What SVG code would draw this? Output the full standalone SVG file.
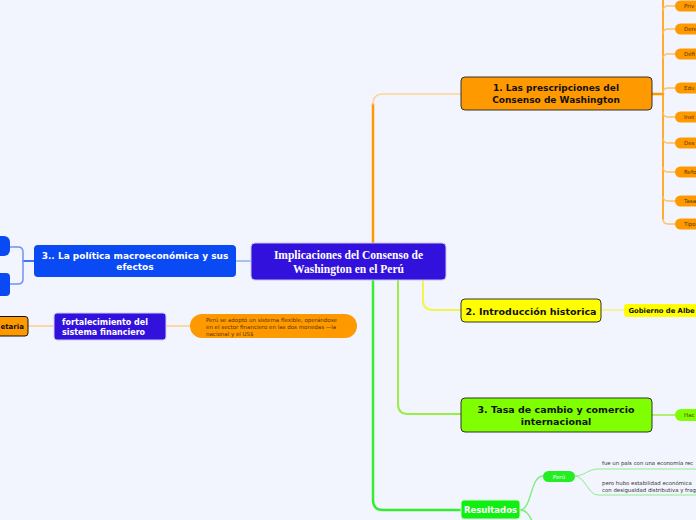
<svg xmlns="http://www.w3.org/2000/svg" width="696" height="520" viewBox="0 0 696 520">
<style>
.t{font-family:"DejaVu Sans",Verdana,sans-serif;}
.b{font-weight:bold;}
.leaf{fill:#ff9900;}
.lt{font-family:"DejaVu Sans",Verdana,sans-serif;font-size:5.5px;fill:#5a3300;}
.c{fill:none;stroke-linecap:round;}
</style>
<rect width="696" height="520" fill="#f2f5fd"/>
<g id="connectors">
  <path class="c" d="M373,243 V104" stroke="#ff9900" stroke-width="2.5"/>
  <path class="c" d="M373,104 Q373,94 383,94 H461" stroke="#ffd49a" stroke-width="1.5"/>
  <path class="c" d="M423,280 V300 Q423,310 433,310 H461" stroke="#f4f44a" stroke-width="2"/>
  <path class="c" d="M398,280 V404 Q398,414 408,414 H461" stroke="#99ee44" stroke-width="2"/>
  <path class="c" d="M373,280 V500 Q373,510 383,510 H461" stroke="#33ee33" stroke-width="2.5"/>
  <path class="c" d="M251,261 H236" stroke="#8fb0f0" stroke-width="1.5"/>
  <path class="c" d="M34,261 H23" stroke="#0a4af5" stroke-width="1.5"/>
  <path class="c" d="M23,261 V252 Q23,247 18,247 H10" stroke="#6f93f5" stroke-width="1.5"/>
  <path class="c" d="M23,261 V279 Q23,284 18,284 H10" stroke="#6f93f5" stroke-width="1.5"/>
  <path class="c" d="M28,326 H54" stroke="#ffcc88" stroke-width="1.5"/>
  <path class="c" d="M166,326 H190" stroke="#ffcc88" stroke-width="1.5"/>
  <path class="c" d="M652,94 H663" stroke="#ff9900" stroke-width="2.5"/>
  <path class="c" d="M663,0 V219" stroke="#ffa31a" stroke-width="1.8"/>
  <g stroke="#ffbf66" stroke-width="1.3" fill="none">
    <path d="M663,11 Q663,6 668,6 H676"/>
    <path d="M663,34 Q663,29 668,29 H676"/>
    <path d="M663,59 Q663,54 668,54 H676"/>
    <path d="M663,93 Q663,88 668,88 H676"/>
    <path d="M663,112 Q663,117 668,117 H676"/>
    <path d="M663,138 Q663,143 668,143 H676"/>
    <path d="M663,167 Q663,172 668,172 H676"/>
    <path d="M663,196 Q663,201 668,201 H676"/>
    <path d="M663,219 Q663,224 668,224 H676"/>
  </g>
  <path class="c" d="M601,310 H624" stroke="#f4f47a" stroke-width="1.5"/>
  <path class="c" d="M652,415 H676" stroke="#99ee44" stroke-width="1.5"/>
  <path class="c" d="M520,510 C532,510 530,476 543,476" stroke="#77ee77" stroke-width="1.3"/>
  <path class="c" d="M520,510 C528,510 530,518 534,524" stroke="#77ee77" stroke-width="1.3"/>
  <path class="c" d="M575,476 C585,476 588,469 598,469 H696" stroke="#88ee88" stroke-width="1"/>
  <path class="c" d="M575,476 C585,476 588,495 598,495 H696" stroke="#88ee88" stroke-width="1"/>
</g>

<g id="central">
  <rect x="251" y="243" width="195" height="37" rx="4" fill="#3311dd" stroke="#c9c3f2" stroke-width="1"/>
  <text x="348.5" y="259" text-anchor="middle" font-family="'Liberation Serif','Times New Roman',serif" font-weight="bold" font-size="11.5" fill="#ffffff">Implicaciones del Consenso de</text>
  <text x="348.5" y="272.5" text-anchor="middle" font-family="'Liberation Serif','Times New Roman',serif" font-weight="bold" font-size="11.5" fill="#ffffff">Washington en el Perú</text>
</g>

<g id="node1">
  <rect x="461" y="77" width="191" height="33" rx="4" fill="#ff9900" stroke="#333333" stroke-width="1"/>
  <text class="t b" x="556" y="91" text-anchor="middle" font-size="9" fill="#111">1. Las prescripciones del</text>
  <text class="t b" x="556" y="103" text-anchor="middle" font-size="9" fill="#111">Consenso de Washington</text>
</g>

<g id="leaves1">
  <rect class="leaf" x="675" y="0.5" width="40" height="11" rx="5.5"/><text class="lt" x="684" y="8">Priv</text>
  <rect class="leaf" x="675" y="23.5" width="40" height="11" rx="5.5"/><text class="lt" x="684" y="31">Dere</text>
  <rect class="leaf" x="675" y="48.5" width="40" height="11" rx="5.5"/><text class="lt" x="684" y="56">Défi</text>
  <rect class="leaf" x="675" y="82.5" width="40" height="11" rx="5.5"/><text class="lt" x="684" y="90">Edu</text>
  <rect class="leaf" x="675" y="111.5" width="40" height="11" rx="5.5"/><text class="lt" x="684" y="119">Inst</text>
  <rect class="leaf" x="675" y="137.5" width="40" height="11" rx="5.5"/><text class="lt" x="684" y="145">Des</text>
  <rect class="leaf" x="675" y="166.5" width="40" height="11" rx="5.5"/><text class="lt" x="684" y="174">Refo</text>
  <rect class="leaf" x="675" y="195.5" width="40" height="11" rx="5.5"/><text class="lt" x="684" y="203">Tasa</text>
  <rect class="leaf" x="675" y="218.5" width="40" height="11" rx="5.5"/><text class="lt" x="684" y="226">Tipo</text>
</g>

<g id="node2">
  <rect x="461" y="299" width="140" height="23" rx="4" fill="#ffff00" stroke="#333333" stroke-width="1"/>
  <text class="t b" x="531" y="314.5" text-anchor="middle" font-size="9.5" fill="#111">2. Introducción historica</text>
</g>
<g id="leaf2">
  <rect x="624" y="304" width="90" height="13" rx="3" fill="#ffff00"/>
  <text class="t b" x="628.5" y="313" font-size="6.8" fill="#111">Gobierno de Albe</text>
</g>

<g id="node3">
  <rect x="461" y="398" width="191" height="34" rx="4" fill="#80ff00" stroke="#333333" stroke-width="1"/>
  <text class="t b" x="556" y="413" text-anchor="middle" font-size="9.5" fill="#111">3. Tasa de cambio y comercio</text>
  <text class="t b" x="556" y="425" text-anchor="middle" font-size="9.5" fill="#111">internacional</text>
</g>
<g id="leaf3">
  <rect x="675" y="409" width="40" height="12" rx="6" fill="#80ff00"/>
  <text class="lt" x="684" y="417" fill="#333">Hac</text>
</g>

<g id="resultados">
  <rect x="461" y="500" width="59" height="19" rx="3" fill="#11ee11" stroke="#d8f5d8" stroke-width="1"/>
  <text class="t b" x="490.5" y="513" text-anchor="middle" font-size="8.5" fill="#ffffff">Resultados</text>
</g>
<g id="peru">
  <rect x="543" y="471" width="32" height="11" rx="5.5" fill="#22ee22"/>
  <text class="t" x="559" y="478.8" text-anchor="middle" font-size="5.5" fill="#ffffff">Perú</text>
</g>
<g id="peru1">
  <text class="t" x="602" y="465" font-size="5.4" fill="#333">fue un país con una economía rec</text>
</g>
<g id="peru2">
  <text class="t" x="602" y="485" font-size="5.4" fill="#333">pero hubo estabilidad económica</text>
  <text class="t" x="602" y="492" font-size="5.4" fill="#333">con desigualdad distributiva y frag</text>
</g>

<g id="node4">
  <rect x="34" y="245" width="202" height="32" rx="4" fill="#0a4af5"/>
  <text class="t b" x="135" y="259" text-anchor="middle" font-size="9" fill="#ffffff">3.. La política macroeconómica y sus</text>
  <text class="t b" x="135" y="270" text-anchor="middle" font-size="9" fill="#ffffff">efectos</text>
</g>
<g id="left1"><rect x="-12" y="236" width="22" height="20" rx="6" fill="#0a4af5"/></g>
<g id="left2"><rect x="-12" y="273" width="22" height="23" rx="4" fill="#0a4af5"/></g>

<g id="etaria">
  <rect x="-40" y="316.5" width="68" height="19.5" rx="3" fill="#ff9900" stroke="#111" stroke-width="1"/>
  <text class="t b" x="0.5" y="329" font-size="7" fill="#111">etaria</text>
</g>

<g id="fortalecimiento">
  <rect x="54" y="313" width="112" height="27" rx="3" fill="#3311dd" stroke="#d0cdf0" stroke-width="1"/>
  <text class="t b" x="62" y="325" font-size="8" fill="#ffffff">fortalecimiento del</text>
  <text class="t b" x="62" y="335" font-size="8" fill="#ffffff">sistema financiero</text>
</g>

<g id="leaf-peru">
  <rect x="190" y="314" width="167" height="24" rx="12" fill="#ff9900"/>
  <text class="lt" x="206" y="322">Perú se adoptó un sistema flexible, operándose</text>
  <text class="lt" x="206" y="329">en el sector financiero en las dos monedas —la</text>
  <text class="lt" x="206" y="335.5">nacional y el US$</text>
</g>
</svg>
